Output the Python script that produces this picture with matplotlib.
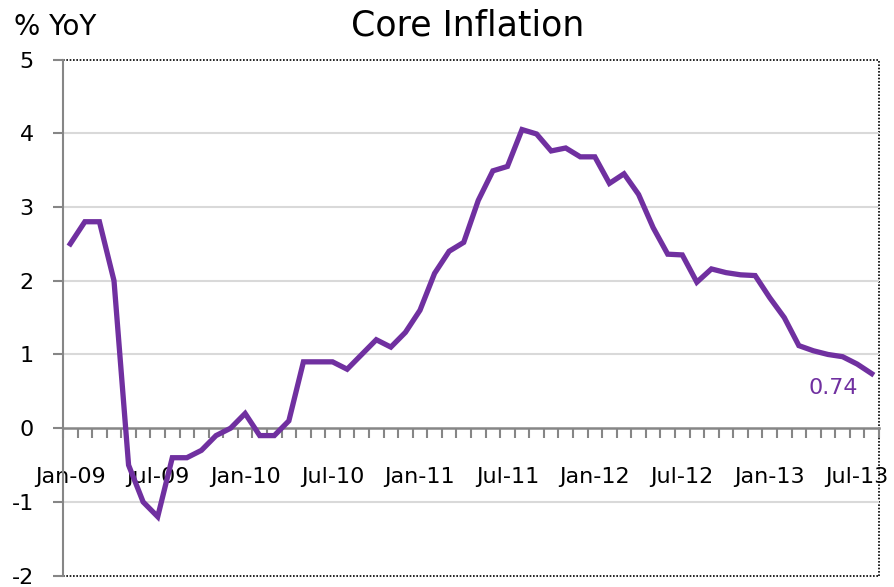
import matplotlib
matplotlib.use("Agg")
import matplotlib.pyplot as plt
import numpy as np
import pandas as pd
from matplotlib.ticker import FixedLocator, FixedFormatter

plt.rcParams['font.family'] = ['DejaVu Sans']

title = "Core Inflation"
y_label = "% YoY"
months = pd.date_range("2009-01-01", "2013-08-01", freq="MS")
core_inflation = [
    2.5, 2.8, 2.8, 2.0, -0.5, -1.0, -1.2, -0.4, -0.4, -0.3, -0.1, 0.0,
    0.2, -0.1, -0.1, 0.1, 0.9, 0.9, 0.9, 0.8, 1.0, 1.2, 1.1, 1.3,
    1.6, 2.1, 2.4, 2.52, 3.09, 3.49, 3.55, 4.05, 3.99, 3.76, 3.80, 3.68,
    3.68, 3.32, 3.45, 3.17, 2.72, 2.36, 2.35, 1.98, 2.16, 2.11, 2.08, 2.07,
    1.77, 1.50, 1.12, 1.05, 1.00, 0.97, 0.87, 0.74,
]
last_label = "0.74"
y_ticks = [-2, -1, 0, 1, 2, 3, 4, 5]

purple = "#7030A0"

fig = plt.figure(figsize=(8.95, 5.87), dpi=100)
ax = fig.add_axes([63/895, 1-575.7/587, (879-63)/895, (575.7-59.5)/587])

x = np.arange(len(months))
ax.plot(x, core_inflation, color=purple, lw=3.8, solid_joinstyle='miter', zorder=5, clip_on=False)

ax.set_xlim(-0.5, len(months)-0.5)
ax.set_ylim(-2, 5)

# grid
for yv in y_ticks:
    if yv not in (-2, 0, 5):
        ax.axhline(yv, color="#d9d9d9", lw=1.5, zorder=1)

# spines
for s in ['top', 'right']:
    ax.spines[s].set_visible(False)
ax.spines['bottom'].set_position(('data', 0))
ax.spines['bottom'].set_color("#868686")
ax.spines['bottom'].set_linewidth(1.8)
ax.spines['left'].set_color("#868686")
ax.spines['left'].set_linewidth(1.5)

# dotted plot-area border
ax.plot([-0.5, len(months)-0.5], [5, 5], color="black", lw=1.2, ls=(0, (1, 1)), clip_on=False, zorder=0)
ax.plot([-0.5, len(months)-0.5], [-2, -2], color="black", lw=1.2, ls=(0, (1, 1)), clip_on=False, zorder=0)
ax.plot([len(months)-0.5]*2, [-2, 5], color="black", lw=1.2, ls=(0, (1, 1)), clip_on=False, zorder=0)

# x ticks: labels every 6 months, minor ticks at category boundaries
label_pos = [i for i, m in enumerate(months) if m.month in (1, 7)]
label_txt = [months[i].strftime("%b-%y") for i in label_pos]
ax.xaxis.set_major_locator(FixedLocator(label_pos))
ax.xaxis.set_major_formatter(FixedFormatter(label_txt))
ax.xaxis.set_minor_locator(FixedLocator(np.arange(-0.5, len(months), 1.0)))
ax.tick_params(axis='x', which='major', length=0, pad=28, labelsize=16, labelcolor='black')
ax.tick_params(axis='x', which='minor', length=7, width=1.5, color="#868686", direction='out')

ax.set_yticks(y_ticks)
ax.set_yticklabels([str(v) for v in y_ticks])
ax.tick_params(axis='y', which='major', length=7, width=1.5, color="#868686", pad=14, labelsize=16)

ax.text(len(months)-1.95, core_inflation[-1]-0.2, last_label, color=purple, fontsize=16,
        ha='right', va='center')

fig.text(468/895, 1-25/587, title, ha='center', va='center', fontsize=25)
fig.text(14/895, 1-27/587, y_label, ha='left', va='center', fontsize=20)

fig.savefig("out.png", dpi=100)
